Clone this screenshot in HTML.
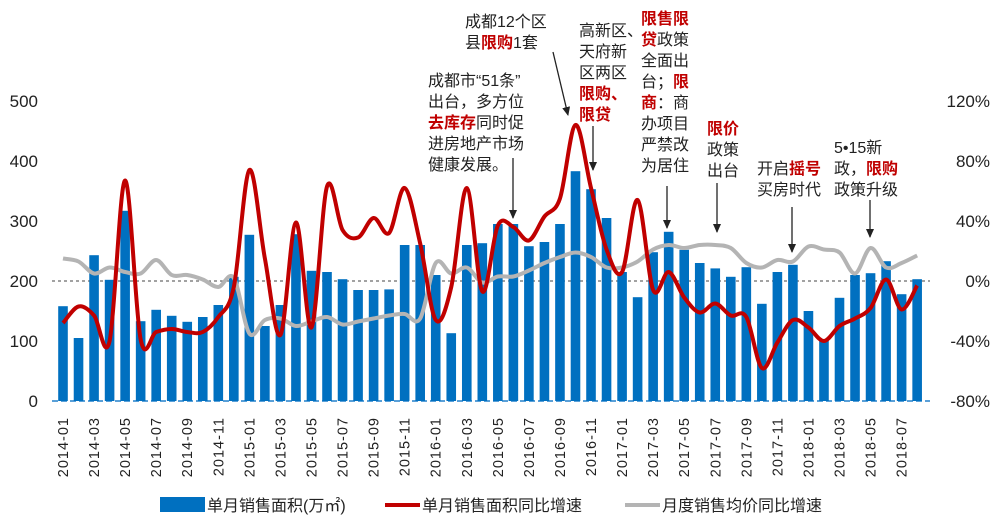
<!DOCTYPE html>
<html><head><meta charset="utf-8">
<style>
html,body{margin:0;padding:0;background:#fff;}
svg{display:block;font-family:"Liberation Sans","Noto Sans CJK SC",sans-serif;}
.ann{font-size:16px;fill:#222;}
.r{fill:#c00000;font-weight:bold;}
</style></head>
<body>
<svg id="chart" width="1000" height="523" viewBox="0 0 1000 523">
<defs><marker id="ah" markerWidth="9" markerHeight="8" refX="8" refY="4" orient="auto" markerUnits="userSpaceOnUse"><path d="M0,0 L9,4 L0,8 z" fill="#222"/></marker></defs>
<g id="grid"></g>
<g id="bars"></g>
<g id="lines"></g>
<g id="axes"></g>
<g id="annotations">
  <text class="ann" x="465" y="27"><tspan x="465">成都12个区</tspan><tspan x="465" dy="21">县<tspan class="r">限购</tspan>1套</tspan></text>
  <line x1="553" y1="52" x2="568" y2="115" stroke="#222" stroke-width="1.3" marker-end="url(#ah)"/>
  <text class="ann" x="428" y="86"><tspan x="428">成都市“51条”</tspan><tspan x="428" dy="21">出台，多方位</tspan><tspan x="428" dy="21"><tspan class="r">去库存</tspan>同时促</tspan><tspan x="428" dy="21">进房地产市场</tspan><tspan x="428" dy="21">健康发展。</tspan></text>
  <line x1="513" y1="158" x2="513" y2="218" stroke="#222" stroke-width="1.3" marker-end="url(#ah)"/>
  <text class="ann" x="579" y="36"><tspan x="579">高新区、</tspan><tspan x="579" dy="21">天府新</tspan><tspan x="579" dy="21">区两区</tspan><tspan x="579" dy="21" class="r">限购、</tspan><tspan x="579" dy="21" class="r">限贷</tspan></text>
  <line x1="593" y1="126" x2="593" y2="170" stroke="#222" stroke-width="1.3" marker-end="url(#ah)"/>
  <text class="ann" x="641" y="24"><tspan x="641" class="r">限售限</tspan><tspan x="641" dy="21"><tspan class="r">贷</tspan>政策</tspan><tspan x="641" dy="21">全面出</tspan><tspan x="641" dy="21">台；<tspan class="r">限</tspan></tspan><tspan x="641" dy="21"><tspan class="r">商</tspan>：商</tspan><tspan x="641" dy="21">办项目</tspan><tspan x="641" dy="21">严禁改</tspan><tspan x="641" dy="21">为居住</tspan></text>
  <line x1="667" y1="186" x2="667" y2="228" stroke="#222" stroke-width="1.3" marker-end="url(#ah)"/>
  <text class="ann" x="707" y="134"><tspan x="707" class="r">限价</tspan><tspan x="707" dy="21">政策</tspan><tspan x="707" dy="21">出台</tspan></text>
  <line x1="717" y1="183" x2="717" y2="232" stroke="#222" stroke-width="1.3" marker-end="url(#ah)"/>
  <text class="ann" x="757" y="174"><tspan x="757">开启<tspan class="r">摇号</tspan></tspan><tspan x="757" dy="21">买房时代</tspan></text>
  <line x1="792" y1="207" x2="792" y2="252" stroke="#222" stroke-width="1.3" marker-end="url(#ah)"/>
  <text class="ann" x="834" y="153"><tspan x="834">5•15新</tspan><tspan x="834" dy="21">政，<tspan class="r">限购</tspan></tspan><tspan x="834" dy="21">政策升级</tspan></text>
  <line x1="870" y1="200" x2="870" y2="237" stroke="#222" stroke-width="1.3" marker-end="url(#ah)"/>
</g>
<g id="legend">
  <rect x="160" y="497" width="45" height="15" fill="#0070c0"/>
  <text x="207" y="511" font-size="16" fill="#222">单月销售面积(万㎡)</text>
  <line x1="385" y1="505" x2="420" y2="505" stroke="#c00000" stroke-width="4"/>
  <text x="422" y="511" font-size="16" fill="#222">单月销售面积同比增速</text>
  <line x1="625" y1="505" x2="660" y2="505" stroke="#b4b4b4" stroke-width="4"/>
  <text x="662" y="511" font-size="16" fill="#222">月度销售均价同比增速</text>
</g>
</svg>
<script>
const months = [];
for (let y = 2014; y <= 2018; y++) for (let m = 1; m <= 12; m++) { if (y === 2018 && m > 8) break; months.push(y + '-' + String(m).padStart(2, '0')); }
const areaValues = [158,105,243,202,317,133,152,142,132,140,160,207,
  277,125,160,278,217,215,203,185,185,186,260,260,
  210,113,260,263,295,295,258,265,295,383,353,305,
  215,173,248,282,252,230,221,207,223,162,215,227,
  150,102,172,210,213,233,178,203];
const areaYoY = [-28,-17,-23,-40,67,-39,-34,-32,-34,-34,-24,-4,
  74,15,-36,39,-31,63,34,29,42,32,62,25,
  -26,-4,62,-7,37,36,27,43,55,104,62,21,
  6,54,-6,6,-11,-21,-15,-23,-24,-58,-41,-26,
  -31,-40,-30,-25,-18,1,-19,-3];
const priceYoY = [15,13,5,9,6,5,14,4,4,1,-4,2,
  -35,-26,-25,-30,-27,-24,-29,-27,-25,-23,-22,-25,
  12,5,9,-1,3,3,7,12,16,19,16,9,
  9,13,21,24,22,24,24,22,12,9,14,13,
  23,21,19,5,22,9,12,17];
const leftTicks = [0,100,200,300,400,500];
const rightTicks = [-80,-40,0,40,80,120];

const NS = 'http://www.w3.org/2000/svg';
const x = i => 63 + i * 15.53;
const yL = v => 401 - v * 0.6;
const yR = p => 281 - p * 1.5;
function mk(tag, attrs, parent) { const e = document.createElementNS(NS, tag); for (const k in attrs) e.setAttribute(k, attrs[k]); parent.appendChild(e); return e; }
const gG = document.getElementById('grid'), gB = document.getElementById('bars'), gL = document.getElementById('lines'), gA = document.getElementById('axes');

let bl = mk('line', {x1: 52, y1: 401, x2: 930, y2: 401, stroke: '#5aa0d8', 'stroke-width': 2, 'stroke-dasharray': '6,3'}, gG);


let zl = mk('line', {x1: 52, y1: yR(0), x2: 930, y2: yR(0), stroke: '#444', 'stroke-width': 1, 'stroke-dasharray': '3,3'}, gG);



areaValues.forEach((v, i) => {
  const r = mk('rect', {x: x(i) - 4.8, y: yL(v), width: 9.6, height: 401 - yL(v), fill: '#0070c0'}, gB);
  
  
});

function smoothPath(vals) {
  const p = vals.map((v, i) => [x(i), yR(v)]);
  let d = 'M' + p[0][0] + ',' + p[0][1];
  for (let i = 0; i < p.length - 1; i++) {
    const p0 = p[i - 1] || p[i], p1 = p[i], p2 = p[i + 1], p3 = p[i + 2] || p2;
    const c1x = p1[0] + (p2[0] - p0[0]) / 6, c1y = p1[1] + (p2[1] - p0[1]) / 6;
    const c2x = p2[0] - (p3[0] - p1[0]) / 6, c2y = p2[1] - (p3[1] - p1[1]) / 6;
    d += ' C' + c1x + ',' + c1y + ' ' + c2x + ',' + c2y + ' ' + p2[0] + ',' + p2[1];
  }
  return d;
}
const gl = mk('path', {d: smoothPath(priceYoY), fill: 'none', stroke: '#b4b4b4', 'stroke-width': 4, 'stroke-linejoin': 'round'}, gL);


const rl = mk('path', {d: smoothPath(areaYoY), fill: 'none', stroke: '#c00000', 'stroke-width': 4, 'stroke-linejoin': 'round'}, gL);



leftTicks.forEach(v => {
  const t = mk('text', {x: 38, y: yL(v) + 6, 'text-anchor': 'end', 'font-size': 17, fill: '#222'}, gA);
  t.textContent = v;
  
  
});
rightTicks.forEach(v => {
  const t = mk('text', {x: 990, y: yR(v) + 6, 'text-anchor': 'end', 'font-size': 17, fill: '#222'}, gA);
  t.textContent = v + '%';
  
  
});
months.forEach((m, i) => {
  if (i % 2) return;
  const t = mk('text', {x: 0, y: 0, 'text-anchor': 'end', 'font-size': 14.5, 'letter-spacing': 1, fill: '#222', transform: 'translate(' + (x(i) + 5) + ',417) rotate(-90)'}, gA);
  t.textContent = m;
  
  
});
</script>
</body></html>
